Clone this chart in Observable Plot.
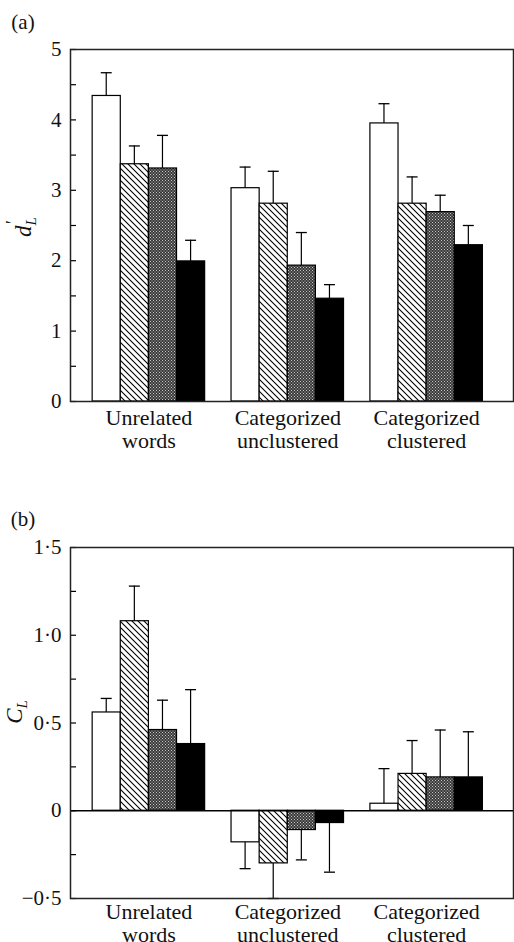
<!DOCTYPE html>
<html><head><meta charset="utf-8">
<script src="https://cdn.jsdelivr.net/npm/d3@7"></script>
<script src="https://cdn.jsdelivr.net/npm/@observablehq/plot@0.6"></script>
<style>body{margin:0;background:#fff;} #chart svg{display:block} #chart svg text{font-family:"Liberation Serif","Times New Roman",Times,serif;}</style>
</head><body>
<svg width="0" height="0" style="position:absolute"><defs>
<pattern id="hatch" patternUnits="userSpaceOnUse" width="6" height="6">
<rect width="6" height="6" fill="white"/>
<path d="M-1,-1 L7,7 M-1,5 L1,7 M5,-1 L7,1" stroke="black" stroke-width="1.1"/>
</pattern>
<pattern id="stipple" patternUnits="userSpaceOnUse" width="3" height="3">
<rect width="3" height="3" fill="#3a3a3a"/>
<rect x="0" y="0" width="1" height="1" fill="#c8c8c8"/>
<rect x="1.5" y="1.5" width="1" height="1" fill="#c8c8c8"/>
</pattern>
</defs></svg>
<div id="chart"></div>
<script>
const groups = ["Unrelated words", "Categorized unclustered", "Categorized clustered"];
const groupLabels = ["Unrelated\nwords", "Categorized\nunclustered", "Categorized\nclustered"];
const conditions = ["open", "hatched", "stippled", "solid"];
const conditionFills = ["white", "url(#hatch)", "url(#stipple)", "black"];

// Panel (a): d'L
const dMean = [[4.34, 3.37, 3.31, 1.99], [3.03, 2.81, 1.93, 1.46], [3.95, 2.81, 2.69, 2.22]];
const dSE   = [[0.33, 0.26, 0.47, 0.30], [0.30, 0.46, 0.47, 0.20], [0.28, 0.38, 0.24, 0.28]];
const dTicks = [0, 1, 2, 3, 4, 5];
const dMinor = [0, 0.5, 1, 1.5, 2, 2.5, 3, 3.5, 4, 4.5, 5];

// Panel (b): CL
const cMean = [[0.56, 1.08, 0.46, 0.38], [-0.18, -0.30, -0.11, -0.07], [0.04, 0.21, 0.19, 0.19]];
const cSE   = [[0.08, 0.20, 0.17, 0.31], [0.15, 0.20, 0.17, 0.28], [0.20, 0.19, 0.27, 0.26]];
const cTicks = [-0.5, 0, 0.5, 1, 1.5];
const cMinor = [-0.5, -0.25, 0, 0.25, 0.5, 0.75, 1, 1.25, 1.5];

const W = 514, ML = 70, MR = 1;
const PI = 0.19, PO = 0.19, AL = 0.42;
const FONT = "'Liberation Serif', 'Times New Roman', Times, serif";
const xs = d3.scaleBand(groups, [ML, W - MR]).paddingInner(PI).paddingOuter(PO).align(AL);
const bw = xs.bandwidth();
const w = bw / 4;

function rowsFor(means, ses) {
  const rows = [];
  groups.forEach((g, gi) => conditions.forEach((c, ci) => rows.push({group: g, condition: c, ci, mean: means[gi][ci], se: ses[gi][ci]})));
  return rows;
}

function panel({means, ses, domain, ticks, minor, fmt, height, marginTop, marginBottom, label, tickPadX, zero}) {
  const rows = rowsFor(means, ses);
  const end = r => r.mean + Math.sign(r.mean) * r.se;
  const marks = [];
  conditions.forEach((c, i) => {
    const sub = rows.filter(r => r.ci === i);
    const cx = i * w + w / 2;
    marks.push(Plot.barY(sub, {x: "group", y1: 0, y2: "mean", fill: conditionFills[i], stroke: "black", strokeWidth: 1.2,
      insetLeft: i * w, insetRight: (3 - i) * w}));
    marks.push(Plot.barY(sub, {x: "group", y1: "mean", y2: end, fill: "black",
      insetLeft: cx - 0.6, insetRight: bw - cx - 0.6}));
    marks.push(Plot.tickY(sub, {x: "group", y: end, stroke: "black", strokeWidth: 1.3,
      insetLeft: cx - 5.5, insetRight: bw - cx - 5.5}));
  });
  if (zero) marks.push(Plot.ruleY([0], {stroke: "black", strokeWidth: 1.5}));
  marks.push(Plot.tickY(minor, {y: d => d, stroke: "black", strokeWidth: 1.2, insetRight: W - ML - MR - 6}));
  marks.push(Plot.frame({stroke: "#222", strokeWidth: 1.5}));
  marks.push(Plot.axisY({ticks, tickFormat: fmt, tickSize: 0, tickPadding: 9, fontSize: 21, label: null}));
  marks.push(Plot.axisX({tickSize: 0, tickPadding: tickPadX, fontSize: 22, lineHeight: 1.02, label: null,
    tickFormat: d => groupLabels[groups.indexOf(d)]}));
  const svg = Plot.plot({
    width: W, height, marginLeft: ML, marginRight: MR, marginTop, marginBottom,
    style: {fontFamily: FONT, color: "#111", background: "white"},
    x: {domain: groups, paddingInner: PI, paddingOuter: PO, align: AL, round: false},
    y: {domain, round: false},
    marks
  });
  d3.select(svg).append("text").attr("x", 23).attr("y", label.y).attr("font-size", 21)
    .attr("fill", "#111").text(label.text);
  return svg;
}

const fmtA = d => String(d);
const fmtB = d => d === 0 ? "0" : d3.format(".1f")(d).replace(".", "·").replace("-", "−");

const svgA = panel({means: dMean, ses: dSE, domain: [0, 5], ticks: dTicks, minor: dMinor, fmt: fmtA,
  height: 471, marginTop: 49, marginBottom: 70, label: {text: "(a)", y: 29}, tickPadX: 8, zero: false});
const svgB = panel({means: cMean, ses: cSE, domain: [-0.5, 1.5], ticks: cTicks, minor: cMinor, fmt: fmtB,
  height: 471, marginTop: 76, marginBottom: 44, label: {text: "(b)", y: 55}, tickPadX: 5, zero: true});

// y-axis titles with sub/superscripts
const tA = d3.select(svgA).append("text").attr("transform", "translate(31,227) rotate(-90)")
  .attr("text-anchor", "middle").attr("font-size", 23).attr("fill", "#111");
tA.append("tspan").attr("font-style", "italic").text("d");
tA.append("tspan").attr("font-style", "italic").attr("font-size", 15).attr("dy", 5).text("L");
tA.append("tspan").attr("font-size", 18).attr("dx", -7).attr("dy", -17).text("′");

const tB = d3.select(svgB).append("text").attr("transform", "translate(22,241) rotate(-90)")
  .attr("text-anchor", "middle").attr("font-size", 23).attr("fill", "#111");
tB.append("tspan").attr("font-style", "italic").text("C");
tB.append("tspan").attr("font-style", "italic").attr("font-size", 15).attr("dy", 5).text("L");

document.getElementById("chart").append(svgA, svgB);
</script>
</body></html>
